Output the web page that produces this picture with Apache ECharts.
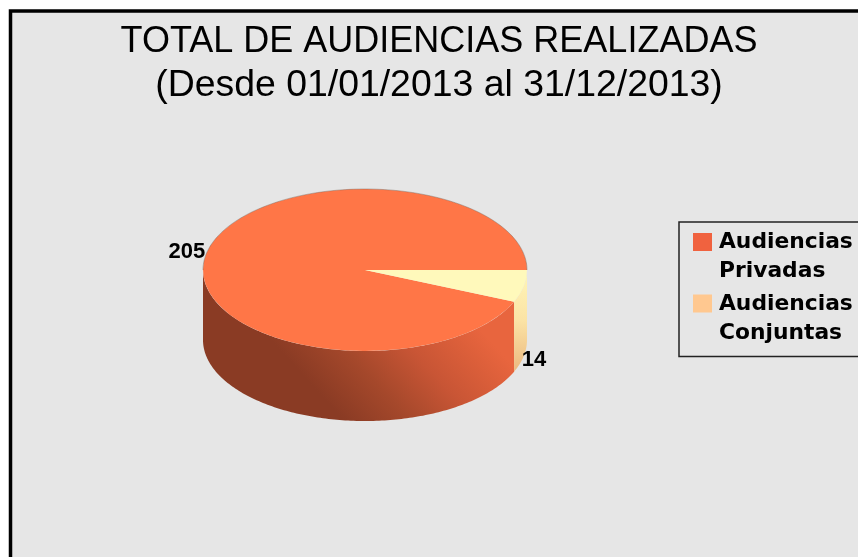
<!DOCTYPE html>
<html>
<head>
<meta charset="utf-8">
<title>Audiencias</title>
<script src="https://cdn.jsdelivr.net/npm/echarts@6/dist/echarts.min.js"></script>
<style>
  html, body { margin: 0; padding: 0; background: #fff; }
  #chart-container { width: 858px; height: 557px; }
  /* La imagen original está reescalada y se ve algo suave */
  #chart-container canvas { filter: blur(0.5px); }
</style>
</head>
<body>
<div id="chart-container"></div>
<script>
// Datos de la gráfica
const categorias = ["Audiencias\nPrivadas", "Audiencias\nConjuntas"];
const valores = [205, 14];
const tituloLinea1 = "TOTAL DE AUDIENCIAS REALIZADAS";
const tituloLinea2 = "(Desde 01/01/2013 al 31/12/2013)";

// Colores: leyenda, cara superior y lateral de cada porción
const coloresLeyenda = ["#f0623f", "#ffc890"];
const coloresTapa = ["#ff7647", "#fff9bb"];

// Geometría del cilindro
const cx = 365, cy = 270, rx = 162, ry = 81, alto = 70;
const total = valores.reduce((s, v) => s + v, 0);

// La porción pequeña empieza en el ángulo 0 y la grande ocupa el resto
function angulos(i) {
  const a14 = (valores[1] / total) * Math.PI * 2;
  return i === 1 ? [0, a14] : [a14, Math.PI * 2];
}

function borde(a0, a1) {
  const puntos = [];
  for (let a = a0; a < a1; a += Math.PI / 180) {
    puntos.push([cx + rx * Math.cos(a), cy + ry * Math.sin(a)]);
  }
  puntos.push([cx + rx * Math.cos(a1), cy + ry * Math.sin(a1)]);
  return puntos;
}

function pared(a0, a1) {
  const arriba = borde(a0, Math.min(a1, Math.PI));
  const abajo = arriba.map((p) => [p[0], p[1] + alto]).reverse();
  return arriba.concat(abajo);
}

function relleno(i) {
  if (i === 1) {
    return new echarts.graphic.LinearGradient(0, 0, 0, 1, [
      { offset: 0, color: "#fff6b8" },
      { offset: 0.5, color: "#fbe3a5" },
      { offset: 1, color: "#ecb87e" },
    ]);
  }
  // Degradado diagonal en coordenadas de página
  return new echarts.graphic.LinearGradient(cx - 85, cy + 80, cx + 35, cy - 29, [
    { offset: 0, color: "#8a3b24" },
    { offset: 0.3, color: "#a5482b" },
    { offset: 0.6, color: "#c85535" },
    { offset: 0.85, color: "#dc5f3a" },
    { offset: 1, color: "#e8653e" },
  ], true);
}

function dibujarPorcion(i) {
  return function (params, api) {
    const valor = api.value(0);
    const [a0, a1] = angulos(i);
    const medio = (a0 + a1) / 2;
    const lx = cx + rx * Math.cos(medio);
    const ly = cy + ry * Math.sin(medio) + (Math.sin(medio) > 0 ? alto : 0);
    const hijos = [
      { type: "polygon", shape: { points: pared(a0, a1) }, style: { fill: relleno(i) } },
      {
        type: "sector",
        x: cx,
        y: cy,
        scaleY: ry / rx,
        shape: { cx: 0, cy: 0, r0: 0, r: rx, startAngle: a0, endAngle: a1 },
        style: { fill: coloresTapa[i] },
      },
      {
        type: "text",
        x: lx + (Math.cos(medio) > 0 ? -2 : -1),
        y: ly + (Math.sin(medio) > 0 ? 4 : -2),
        style: {
          text: String(valor),
          fill: "#000",
          font: 'bold 22px "Liberation Sans"',
          align: Math.cos(medio) > 0 ? "left" : "right",
          verticalAlign: "middle",
        },
      },
    ];
    // Borde gris de la mitad trasera de la tapa
    if (a1 > Math.PI) {
      hijos.push({
        type: "polyline",
        shape: { points: borde(Math.PI, a1) },
        style: { fill: "none", stroke: "rgba(110,95,85,0.4)", lineWidth: 1 },
      });
    }
    return { type: "group", children: hijos };
  };
}

const myChart = echarts.init(document.getElementById("chart-container"), null, { renderer: "canvas" });

const option = {
  animation: false,
  backgroundColor: "#fff",
  title: {
    text: tituloLinea1,
    subtext: tituloLinea2,
    left: 434,
    top: 19,
    textAlign: "center",
    itemGap: 7,
    textStyle: {
      fontFamily: "Liberation Sans",
      fontWeight: "normal",
      fontSize: 36,
      color: "#000",
    },
    subtextStyle: {
      fontFamily: "Liberation Sans",
      fontWeight: "normal",
      fontSize: 37.4,
      color: "#000",
    },
  },
  graphic: [
    {
      type: "rect",
      z: -1,
      shape: { x: 10.5, y: 11, width: 900, height: 600 },
      style: { fill: "#e6e6e6", stroke: "#000", lineWidth: 3.5 },
    },
  ],
  legend: {
    left: 679,
    top: 222,
    orient: "vertical",
    selectedMode: false,
    padding: [6, 40, 9, 14],
    itemGap: 3.5,
    itemWidth: 21,
    itemHeight: 58,
    // La línea vacía estira la caja del icono para alinearlo con la primera línea del texto
    icon: "path://M0 0L21 0M0 5H19V23H0ZM0 58L0 58",
    borderColor: "#222",
    borderWidth: 1.5,
    textStyle: {
      fontFamily: "DejaVu Sans",
      fontWeight: "bold",
      fontSize: 21.8,
      lineHeight: 29,
      color: "#000",
    },
    data: categorias,
  },
  series: categorias.map((nombre, i) => ({
    type: "custom",
    name: nombre,
    coordinateSystem: "none",
    itemStyle: { color: coloresLeyenda[i] },
    data: [[valores[i]]],
    renderItem: dibujarPorcion(i),
  })),
};

myChart.setOption(option);
</script>
</body>
</html>
